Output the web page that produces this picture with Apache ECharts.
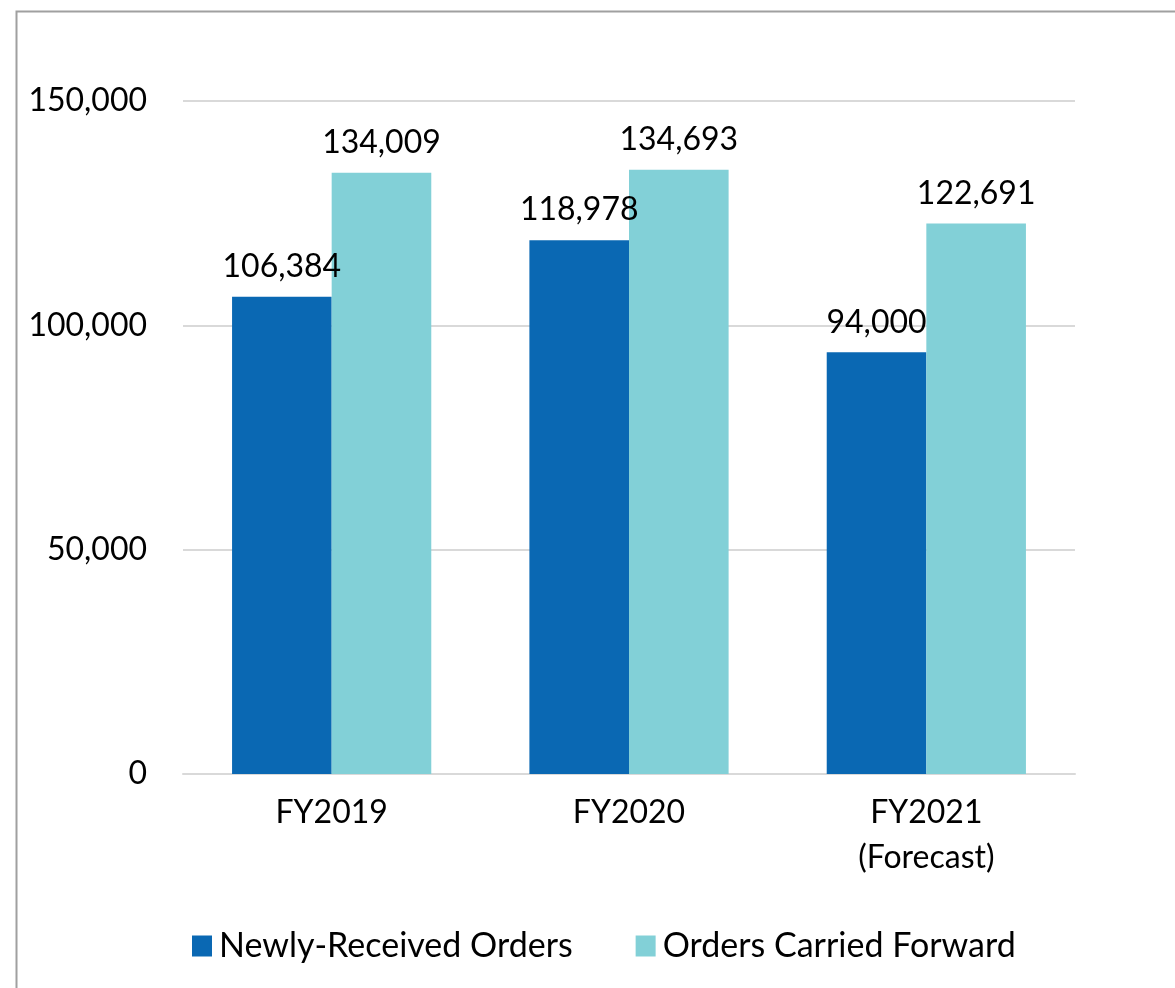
<!DOCTYPE html>
<html>
<head>
<meta charset="utf-8">
<script src="https://cdn.jsdelivr.net/npm/echarts@6/dist/echarts.min.js"></script>
<style>
html,body{margin:0;padding:0;background:#fff;}
#main{width:1175px;height:988px;}
</style>
</head>
<body>
<div id="main"></div>
<script>
var categories = ['FY2019', 'FY2020', 'FY2021\n(Forecast)'];
var seriesNames = ['Newly-Received Orders', 'Orders Carried Forward'];
var newlyReceived = [106384, 118978, 94000];
var carriedForward = [134009, 134693, 122691];
var yTicks = [0, 50000, 100000, 150000];

var chart = echarts.init(document.getElementById('main'));
var fontFamily = 'Lato, "Noto Sans", sans-serif';

function fmt(v){ return echarts.format.addCommas(v); }

var option = {
    backgroundColor: '#fff',
    textStyle: {fontFamily: fontFamily, color: '#000'},
    // frame around the chart (top and left edges visible)
    graphic: [{
        type: 'rect', left: 14, top: 9, z: -1,
        shape: {width: 1300, height: 1100},
        style: {fill: 'none', stroke: '#a0a0a0', lineWidth: 2}
    }],
    grid: {left: 183, right: 100, top: 101, bottom: 214},
    legend: {
        data: seriesNames,
        left: 187, top: 924,
        itemWidth: 20, itemHeight: 21, itemGap: 63,
        icon: 'rect',
        textStyle: {fontSize: 34, color: '#000', fontFamily: fontFamily, padding: [0,0,0,2]}
    },
    xAxis: {
        type: 'category',
        data: categories,
        axisTick: {show: false},
        axisLine: {lineStyle: {color: '#d9d9d9', width: 2}},
        axisLabel: {fontSize: 32, color: '#000', margin: 16, lineHeight: 45, fontFamily: fontFamily}
    },
    yAxis: {
        type: 'value',
        min: yTicks[0], max: yTicks[yTicks.length-1], interval: 50000,
        axisLine: {show: false},
        axisTick: {show: false},
        splitLine: {lineStyle: {color: '#d9d9d9', width: 2}},
        axisLabel: {fontSize: 32, color: '#000', margin: 36, formatter: fmt, fontFamily: fontFamily}
    },
    series: [{
        name: seriesNames[0],
        type: 'bar',
        data: newlyReceived,
        barGap: '0%',
        barCategoryGap: '33%',
        itemStyle: {color: '#0a68b3'},
        label: {show: true, position: 'top', distance: 14, fontSize: 32, color: '#000', formatter: function(p){return fmt(p.value);}}
    },{
        name: seriesNames[1],
        type: 'bar',
        data: carriedForward,
        barGap: '0%',
        barCategoryGap: '33%',
        itemStyle: {color: '#82d0d7'},
        label: {show: true, position: 'top', distance: 14, fontSize: 32, color: '#000', formatter: function(p){return fmt(p.value);}}
    }]
};
chart.setOption(option);

window.addEventListener('resize', function(){ chart.resize(); });
</script>
</body>
</html>
